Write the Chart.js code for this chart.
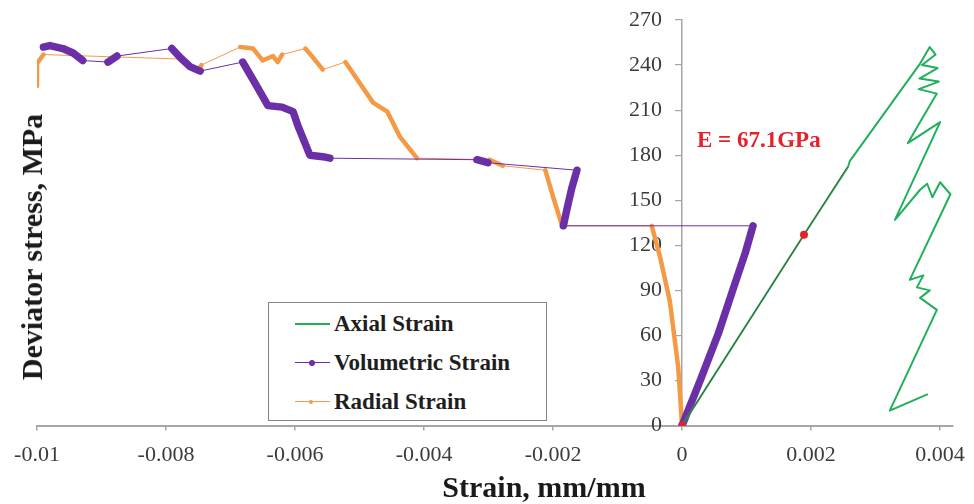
<!DOCTYPE html>
<html>
<head>
<meta charset="utf-8">
<script src="https://cdn.jsdelivr.net/npm/chart.js@4/dist/chart.umd.min.js"></script>
<style>
html,body{margin:0;padding:0;background:#fff;}
#wrap{position:relative;width:974px;height:504px;overflow:hidden;background:#fff;}
#c{position:absolute;left:0;top:0;}
.t{position:absolute;font-family:'Liberation Serif','Times New Roman',serif;font-weight:bold;white-space:nowrap;color:#1a1a1a;}
#ytitle{left:31.5px;top:247px;font-size:30px;line-height:30px;transform:translate(-50%,-50%) rotate(-90deg);}
#xtitle{left:544px;top:472px;font-size:30px;line-height:30px;transform:translateX(-50%);}
#eann{left:697px;top:128px;font-size:23px;line-height:23px;color:#e3232b;}
#legend{position:absolute;left:268px;top:302px;width:277px;height:117px;border:1.5px solid #858585;background:#fff;}
.row{position:absolute;left:0;height:30px;width:100%;}
.sample{position:absolute;left:26px;top:14px;width:35px;height:0;}
.dot{position:absolute;left:14px;border-radius:50%;}
.lab{position:absolute;left:65px;top:3px;font-family:'Liberation Serif','Times New Roman',serif;font-weight:bold;font-size:23px;line-height:23px;color:#1e1e1e;white-space:nowrap;}
</style>
</head>
<body>
<div id="wrap">
<canvas id="c" width="974" height="504"></canvas>
<div id="ytitle" class="t">Deviator stress, MPa</div>
<div id="xtitle" class="t">Strain, mm/mm</div>
<div id="eann" class="t">E = 67.1GPa</div>
<div id="legend">
  <div class="row" style="top:6px"><div class="sample" style="border-top:2px solid #20b05a;"></div><div class="lab">Axial Strain</div></div>
  <div class="row" style="top:45px"><div class="sample" style="border-top:1px solid #6b2fa8;"><div class="dot" style="width:6px;height:6px;top:-3.5px;background:#6b2fa8;"></div></div><div class="lab">Volumetric Strain</div></div>
  <div class="row" style="top:84px"><div class="sample" style="border-top:1px solid #f49a45;"><div class="dot" style="width:4px;height:4px;top:-2.5px;background:#f49a45;"></div></div><div class="lab">Radial Strain</div></div>
</div>
</div>
<script>
// ---- tick labels ----
const xTickValues = [-0.01, -0.008, -0.006, -0.004, -0.002, 0, 0.002, 0.004];
const xTickLabels = ['-0.01', '-0.008', '-0.006', '-0.004', '-0.002', '0', '0.002', '0.004'];
const yTickValues = [0, 30, 60, 90, 120, 150, 180, 210, 240, 270];
const yTickLabels = ['0', '30', '60', '90', '120', '150', '180', '210', '240', '270'];

// ---- Axial strain (green) ----
const axialStrain = [0, 0.00189, 0.00257, 0.0026, 0.00369, 0.00384, 0.00393, 0.00372, 0.00396, 0.00368, 0.00398, 0.00367, 0.00395, 0.00366, 0.0035, 0.004, 0.0033, 0.00369, 0.0038, 0.00388, 0.004, 0.00416, 0.00353, 0.00374, 0.00364, 0.00384, 0.00369, 0.00395, 0.00322, 0.00381];
const axialStress = [0, 127, 172, 176, 241, 252, 247, 240, 238, 231, 229, 224, 221, 200, 188, 202, 137, 157, 161, 152, 162, 154, 97, 100, 92, 90, 85, 77, 10, 21];

// ---- Volumetric strain (purple) ----
const volStrain = [0, 0.00028, 0.00056, 0.0008, 0.00098, 0.0011, -0.00184, -0.00178, -0.00171, -0.00163, -0.00301, -0.00318, -0.00546, -0.00557, -0.00577, -0.00595, -0.00603, -0.0062, -0.00642, -0.00662, -0.00681, -0.00747, -0.00763, -0.00778, -0.00791, -0.00876, -0.0089, -0.00929, -0.00944, -0.0096, -0.0098, -0.0099];
const volStress = [0, 30, 61, 92, 115, 133, 133, 145, 158, 170, 175, 177, 178, 179, 180, 199, 209, 212, 213, 228, 242, 236, 239, 245, 251, 246, 242, 243, 248, 251, 253, 252];

// ---- Radial strain (orange) ----
const radStrain = [0, -0.00006, -0.00019, -0.00034, -0.00047, -0.00186, -0.00199, -0.00212, -0.00278, -0.00298, -0.00411, -0.00437, -0.00457, -0.00479, -0.00522, -0.00557, -0.00572, -0.00584, -0.0062, -0.00627, -0.00634, -0.0065, -0.00665, -0.00685, -0.00745, -0.00752, -0.00765, -0.00778, -0.0099, -0.01, -0.01, -0.01, -0.01];
const radStress = [0, 39, 83, 112, 133, 133, 151, 170, 173, 177, 178, 192, 209, 215, 242, 237, 245, 251, 247, 242, 246, 243, 251, 252, 240, 236, 240, 244, 247, 241, 236, 231, 226];

// ---- Elastic modulus fit ----
const fitStrain = [0, 0.00256];
const fitStress = [0, 172];
const ePointStrain = [0, 0.00189];
const ePointStress = [0, 127];

const pts = (xs, ys) => xs.map((x, i) => ({x: x, y: ys[i]}));
const FONT = "'Liberation Serif', 'Times New Roman', serif";

function segWidth(thick, thin) {
  return ctx => {
    const dx = Math.abs(ctx.p1.x - ctx.p0.x), dy = Math.abs(ctx.p1.y - ctx.p0.y);
    const len = Math.hypot(dx, dy);
    return (len < 20 || dy > 0.8 * dx) ? thick : thin;
  };
}

// move tick labels of an axis by a fixed pixel offset (without affecting layout)
function shiftLabels(dx, dy, align) {
  return scale => {
    if (scale._labelShiftPatched) return;
    scale._labelShiftPatched = true;
    const orig = scale._computeLabelItems.bind(scale);
    scale._computeLabelItems = ca => orig(ca).map(it => {
      it.options.translation = [it.options.translation[0] + dx, it.options.translation[1] + dy];
      if (align) it.options.textAlign = align;
      return it;
    });
  };
}

new Chart(document.getElementById('c'), {
  type: 'scatter',
  data: {
    datasets: [
      {
        label: 'E points', data: pts(ePointStrain, ePointStress), showLine: false,
        pointRadius: 4, pointBackgroundColor: '#e8202a', pointBorderColor: '#e8202a', pointBorderWidth: 0
      },
      {
        label: 'E fit', data: pts(fitStrain, fitStress), showLine: true,
        borderColor: '#55583c', borderWidth: 1, pointRadius: 0
      },
      {
        label: 'Axial Strain', data: pts(axialStrain, axialStress), showLine: true,
        borderColor: '#20b05a', borderWidth: 2, pointRadius: 0, borderJoinStyle: 'round'
      },
      {
        label: 'Volumetric Strain', data: pts(volStrain, volStress), showLine: true,
        borderColor: '#6b2fa8', borderWidth: 1, pointRadius: 3,
        pointBackgroundColor: '#6b2fa8', pointBorderColor: '#6b2fa8', pointBorderWidth: 0,
        borderCapStyle: 'round', borderJoinStyle: 'round',
        segment: { borderWidth: segWidth(7.5, 1) }
      },
      {
        label: 'Radial Strain', data: pts(radStrain, radStress), showLine: true,
        borderColor: '#f49a45', borderWidth: 1, pointRadius: 1.8,
        pointBackgroundColor: '#f49a45', pointBorderColor: '#f49a45', pointBorderWidth: 0,
        borderCapStyle: 'round', borderJoinStyle: 'round',
        segment: { borderWidth: segWidth(4.5, 1) }
      }
    ]
  },
  options: {
    responsive: false,
    animation: false,
    devicePixelRatio: 1,
    layout: { padding: { left: 37, right: 21, top: 20, bottom: 35 } },
    plugins: { legend: { display: false }, tooltip: { enabled: false } },
    elements: { line: { tension: 0 } },
    scales: {
      x: {
        type: 'linear', position: 'bottom', min: -0.01, max: 0.0042,
        afterBuildTicks: s => { s.ticks = xTickValues.map(v => ({value: v})); },
        afterUpdate: shiftLabels(0, 5),
        ticks: {
          includeBounds: false, padding: 6, color: '#3c3c3c', maxRotation: 0, autoSkip: false,
          font: { family: FONT, size: 22 },
          callback: (v, i) => xTickLabels[i]
        },
        grid: { display: true, drawOnChartArea: false, drawTicks: true, tickLength: 5, color: '#a6a6a6', lineWidth: 1.5 },
        border: { display: true, color: '#a6a6a6', width: 2 }
      },
      y: {
        type: 'linear', position: { x: 0 }, min: 0, max: 270,
        afterBuildTicks: s => { s.ticks = yTickValues.map(v => ({value: v})); },
        afterUpdate: shiftLabels(-20, 0, 'right'),
        ticks: {
          includeBounds: false, padding: 0, color: '#3c3c3c', autoSkip: false,
          font: { family: FONT, size: 22 },
          callback: (v, i) => yTickLabels[i]
        },
        grid: { display: true, drawOnChartArea: false, drawTicks: true, tickLength: 6, color: '#a6a6a6', lineWidth: 1.2 },
        border: { display: true, color: '#a6a6a6', width: 1.5 }
      }
    }
  }
});
</script>
</body>
</html>
